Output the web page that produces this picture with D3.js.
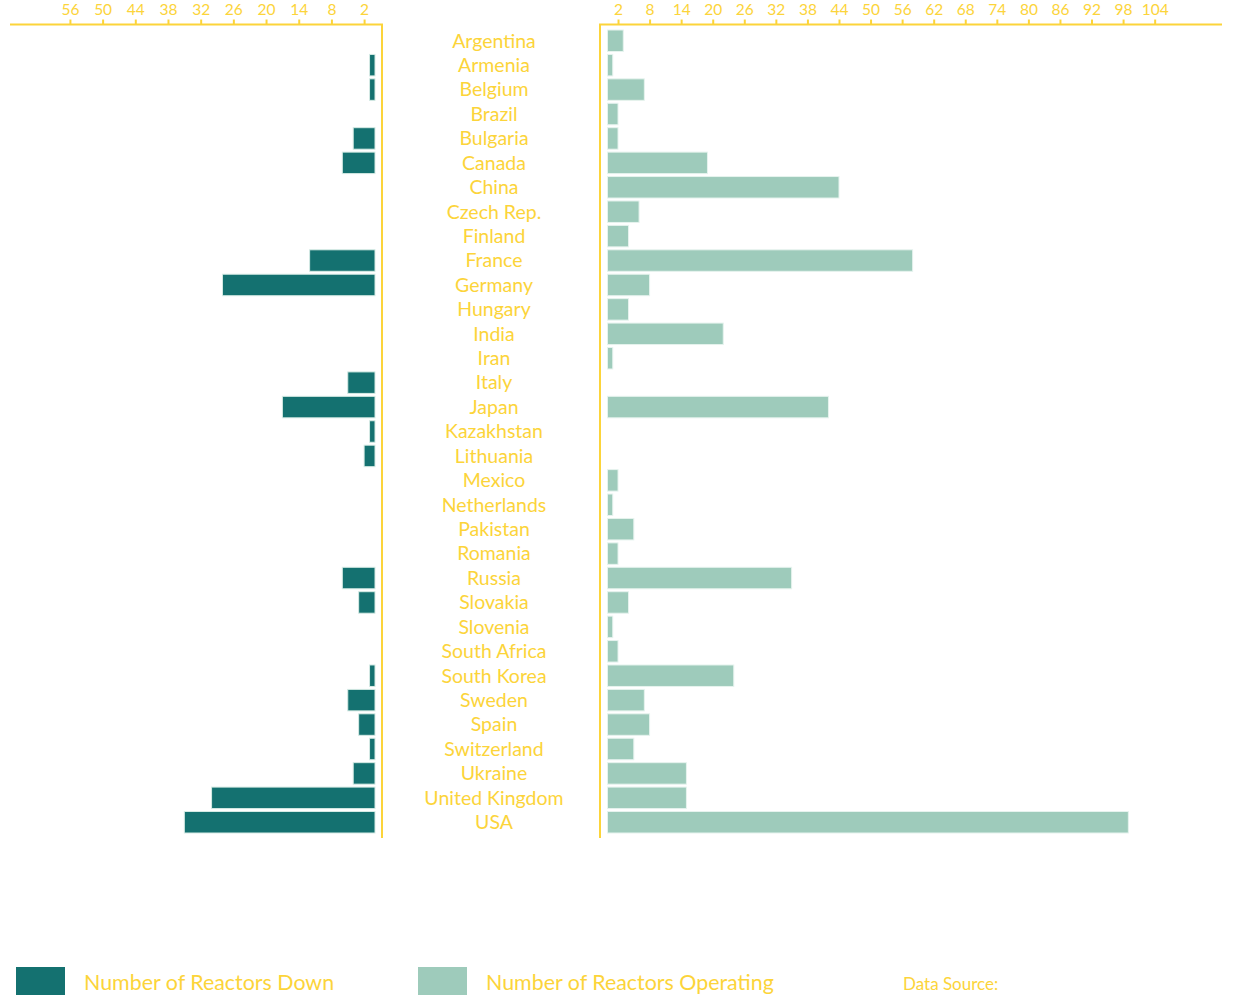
<!DOCTYPE html>
<html>
<head>
<meta charset="utf-8">
<script src="https://cdn.jsdelivr.net/npm/d3@7"></script>
<style>
  html, body { margin: 0; padding: 0; background: #ffffff; }
  svg { display: block; font-family: "Lato", "Open Sans", sans-serif; }
</style>
</head>
<body>
<svg id="chart" width="1240" height="996"></svg>
<script>
const countries = ["Argentina","Armenia","Belgium","Brazil","Bulgaria","Canada","China","Czech Rep.","Finland","France","Germany","Hungary","India","Iran","Italy","Japan","Kazakhstan","Lithuania","Mexico","Netherlands","Pakistan","Romania","Russia","Slovakia","Slovenia","South Africa","South Korea","Sweden","Spain","Switzerland","Ukraine","United Kingdom","USA"];
const reactorsDown = [0,1,1,0,4,6,0,0,0,12,28,0,0,0,5,17,1,2,0,0,0,0,6,3,0,0,1,5,3,1,4,30,35];
const reactorsOperating = [3,1,7,2,2,19,44,6,4,58,8,4,22,1,0,42,0,0,2,1,5,2,35,4,1,2,24,7,8,5,15,15,99];
const leftTicks = [56,50,44,38,32,26,20,14,8,2];
const rightTicks = [2,8,14,20,26,32,38,44,50,56,62,68,74,80,86,92,98,104];
const legendLabels = ["Number of Reactors Down","Number of Reactors Operating"];
const sourceLabel = "Data Source:";

const gold = "#FCD43A";
const downColor = "#147170";
const opColor = "#9ECBBB";

const svg = d3.select("#chart");

const y = d3.scaleBand().domain(countries).range([30, 833]).paddingInner(0.12).paddingOuter(0);
const xLeft = d3.scaleLinear().domain([0, 67]).range([375, 10]);
const xRight = d3.scaleLinear().domain([0, 116.8]).range([607.5, 1222]);

const axisY = 24.5;
const leftLineX = 382;
const rightLineX = 600;
const bottomY = 838;

// bars
svg.append("g").selectAll("rect")
  .data(countries.map((c, i) => ({c, v: reactorsDown[i]})).filter(d => d.v > 0))
  .join("rect")
  .attr("x", d => xLeft(d.v))
  .attr("y", d => y(d.c))
  .attr("width", d => xLeft(0) - xLeft(d.v))
  .attr("height", y.bandwidth())
  .attr("fill", downColor)
  .attr("stroke", "#d6ebe5")
  .attr("stroke-width", 1);

svg.append("g").selectAll("rect")
  .data(countries.map((c, i) => ({c, v: reactorsOperating[i]})).filter(d => d.v > 0))
  .join("rect")
  .attr("x", xRight(0))
  .attr("y", d => y(d.c))
  .attr("width", d => xRight(d.v) - xRight(0))
  .attr("height", y.bandwidth())
  .attr("fill", opColor)
  .attr("stroke", "#e6f3ee")
  .attr("stroke-width", 1);

// axes
function styleAxis(g) {
  g.select(".domain").remove();
  g.selectAll(".tick line").attr("stroke", gold).attr("stroke-width", 2);
  g.selectAll(".tick text").attr("fill", gold).attr("font-size", 15.5).attr("font-family", "Lato, sans-serif");
}
svg.append("g").attr("transform", `translate(0,${axisY})`)
  .call(d3.axisTop(xLeft).tickValues(leftTicks).tickSize(5).tickPadding(5).tickFormat(d3.format("d")))
  .call(styleAxis);
svg.append("g").attr("transform", `translate(0,${axisY})`)
  .call(d3.axisTop(xRight).tickValues(rightTicks).tickSize(5).tickPadding(5).tickFormat(d3.format("d")))
  .call(styleAxis);

// axis frame lines
const lines = [
  [xLeft.range()[1], axisY, leftLineX + 1, axisY],
  [leftLineX, axisY, leftLineX, bottomY],
  [rightLineX - 1, axisY, xRight.range()[1], axisY],
  [rightLineX, axisY, rightLineX, bottomY]
];
svg.append("g").selectAll("line").data(lines).join("line")
  .attr("x1", d => d[0]).attr("y1", d => d[1]).attr("x2", d => d[2]).attr("y2", d => d[3])
  .attr("stroke", gold).attr("stroke-width", 2);

// country labels
svg.append("g").selectAll("text").data(countries).join("text")
  .attr("x", 494)
  .attr("y", d => y(d) + y.bandwidth() / 2)
  .attr("dy", "0.35em")
  .attr("text-anchor", "middle")
  .attr("fill", gold)
  .attr("font-size", 19.5)
  .text(d => d);

// legend
const legend = svg.append("g");
const legendItems = [
  {label: legendLabels[0], color: downColor, x: 16},
  {label: legendLabels[1], color: opColor, x: 418}
];
legendItems.forEach(it => {
  legend.append("rect").attr("x", it.x).attr("y", 967).attr("width", 49).attr("height", 28).attr("fill", it.color);
  legend.append("text").attr("x", it.x + 68).attr("y", 983).attr("dy", "0.35em")
    .attr("fill", gold).attr("font-size", 21.4).text(it.label);
});
legend.append("text").attr("x", 903).attr("y", 984).attr("dy", "0.35em")
  .attr("fill", gold).attr("font-size", 17).text(sourceLabel);
</script>
</body>
</html>
